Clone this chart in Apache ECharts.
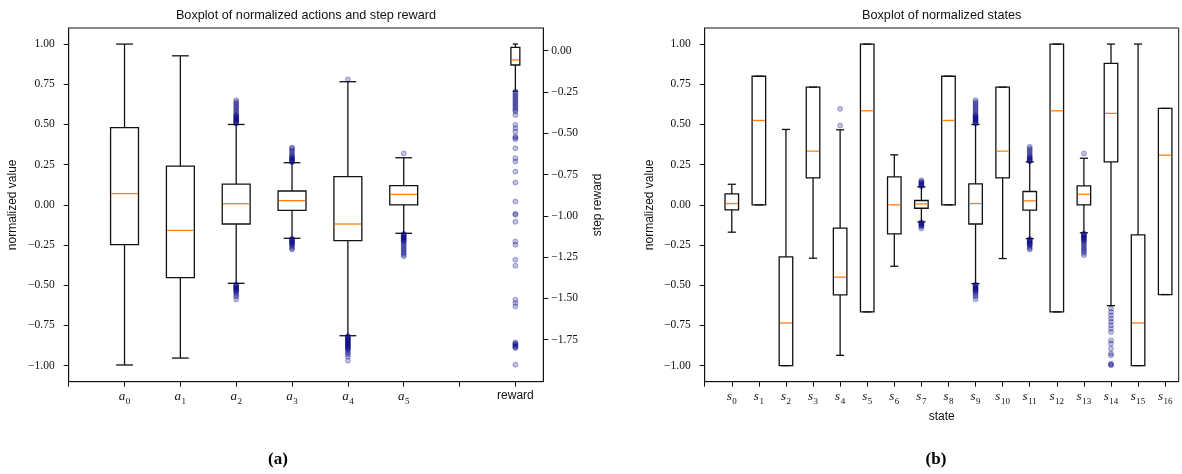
<!DOCTYPE html>
<html><head><meta charset="utf-8">
<script src="https://cdn.jsdelivr.net/npm/echarts@6/dist/echarts.min.js"></script>
<style>html,body{margin:0;padding:0;background:#fff}#c{width:1182px;height:474px}</style>
</head><body><div id="c"></div>
<script>
// ---------- data ----------
const actionNames = ['a0', 'a1', 'a2', 'a3', 'a4', 'a5'];
const actionPositions = [1, 2, 3, 4, 5, 6];
// [whisker low, Q1, median, Q3, whisker high]
const actionBoxes = [
  [-0.996, -0.248, 0.070, 0.480, 1.000],
  [-0.953, -0.453, -0.159, 0.241, 0.927],
  [-0.488, -0.119, 0.007, 0.129, 0.500],
  [-0.208, -0.034, 0.026, 0.086, 0.262],
  [-0.814, -0.223, -0.119, 0.175, 0.766],
  [-0.177, 0.000, 0.065, 0.119, 0.293]
];
const actionOutliers = [
  [],
  [],
  [0.505, 0.51, 0.515, 0.52, 0.525, 0.53, 0.535, 0.54, 0.545, 0.55, 0.555, 0.56, 0.57, 0.58, 0.59, 0.60, 0.61, 0.62, 0.63, 0.64, 0.65,
   -0.495, -0.50, -0.505, -0.51, -0.515, -0.52, -0.525, -0.53, -0.535, -0.54, -0.55, -0.56, -0.57, -0.588],
  [0.265, 0.27, 0.275, 0.28, 0.285, 0.29, 0.295, 0.30, 0.31, 0.32, 0.33, 0.34, 0.35, 0.357,
   -0.21, -0.215, -0.22, -0.225, -0.23, -0.235, -0.24, -0.245, -0.25, -0.26, -0.27, -0.277],
  [0.78,
   -0.815, -0.82, -0.825, -0.83, -0.835, -0.84, -0.845, -0.85, -0.855, -0.86, -0.865, -0.87, -0.875, -0.88, -0.885, -0.89, -0.895, -0.90, -0.91, -0.92, -0.93, -0.945, -0.969],
  [0.32,
   -0.18, -0.185, -0.19, -0.195, -0.20, -0.205, -0.21, -0.215, -0.22, -0.225, -0.23, -0.24, -0.25, -0.26, -0.27, -0.28, -0.29, -0.30, -0.31, -0.32]
];
const rewardPosition = 8;
const rewardBox = [-0.245, -0.087, -0.056, 0.020, 0.040];
const rewardOutliers = [-0.248, -0.258, -0.268, -0.278, -0.288, -0.298, -0.308, -0.318, -0.328, -0.338, -0.349, -0.359, -0.369, -0.389,
  -0.449, -0.470, -0.490, -0.520, -0.528, -0.536, -0.591, -0.651, -0.671, -0.732, -0.798, -0.913, -0.988, -0.994, -1.036,
  -1.155, -1.175, -1.266, -1.302, -1.508, -1.528, -1.548,
  -1.766, -1.772, -1.778, -1.784, -1.790, -1.796, -1.80, -1.901];
const actionTicks = [0, 1, 2, 3, 4, 5, 6, 7, 8];
const valueTicks = [-1, -0.75, -0.5, -0.25, 0, 0.25, 0.5, 0.75, 1];
const rewardTicks = [-1.75, -1.5, -1.25, -1, -0.75, -0.5, -0.25, 0];

const stateNames = ['s0','s1','s2','s3','s4','s5','s6','s7','s8','s9','s10','s11','s12','s13','s14','s15','s16'];
const statePositions = [1,2,3,4,5,6,7,8,9,10,11,12,13,14,15,16,17];
const stateBoxes = [
  [-0.170, -0.031, 0.008, 0.068, 0.128],
  [0.000, 0.000, 0.525, 0.800, 0.800],
  [-1.000, -1.000, -0.735, -0.324, 0.469],
  [-0.332, 0.168, 0.334, 0.732, 0.732],
  [-0.936, -0.560, -0.450, -0.145, 0.467],
  [-0.666, -0.666, 0.585, 1.000, 1.000],
  [-0.382, -0.181, 0.000, 0.174, 0.311],
  [-0.106, -0.021, 0.006, 0.027, 0.112],
  [0.000, 0.000, 0.525, 0.800, 0.800],
  [-0.490, -0.119, 0.008, 0.130, 0.500],
  [-0.334, 0.168, 0.334, 0.732, 0.732],
  [-0.210, -0.033, 0.025, 0.083, 0.267],
  [-0.666, -0.666, 0.585, 1.000, 1.000],
  [-0.174, 0.000, 0.066, 0.118, 0.290],
  [-0.627, 0.267, 0.569, 0.880, 1.000],
  [-1.000, -1.000, -0.735, -0.187, 1.000],
  [-0.558, -0.558, 0.309, 0.600, 0.600]
];
const stateOutliers = [
  [], [], [], [],
  [0.494, 0.597],
  [], [],
  [0.115, 0.12, 0.125, 0.13, 0.135, 0.14, 0.145, 0.153, -0.108, -0.112, -0.116, -0.12, -0.125, -0.13, -0.135, -0.147],
  [],
  [0.505, 0.51, 0.515, 0.52, 0.525, 0.53, 0.535, 0.54, 0.545, 0.55, 0.555, 0.56, 0.57, 0.58, 0.59, 0.60, 0.61, 0.62, 0.63, 0.64, 0.651,
   -0.495, -0.50, -0.505, -0.51, -0.515, -0.52, -0.525, -0.53, -0.535, -0.54, -0.55, -0.56, -0.57, -0.587],
  [],
  [0.27, 0.275, 0.28, 0.285, 0.29, 0.295, 0.30, 0.31, 0.32, 0.33, 0.34, 0.35, 0.361,
   -0.212, -0.217, -0.222, -0.227, -0.232, -0.237, -0.242, -0.247, -0.25, -0.26, -0.27, -0.278],
  [],
  [0.32,
   -0.178, -0.183, -0.188, -0.193, -0.198, -0.203, -0.208, -0.213, -0.218, -0.223, -0.23, -0.24, -0.25, -0.26, -0.27, -0.28, -0.29, -0.30, -0.313],
  [-0.645, -0.666, -0.687, -0.708, -0.728, -0.749, -0.770, -0.791, -0.843, -0.863, -0.894, -0.925, -0.936, -0.988, -0.993, -0.998],
  [], []
];
const stateTicks = [0,1,2,3,4,5,6,7,8,9,10,11,12,13,14,15,16,17];

// ---------- helpers ----------
const SERIF = '"Liberation Serif", "DejaVu Serif", serif';
const SANS = '"Liberation Sans", "DejaVu Sans", sans-serif';
const fmtVal = v => (v < 0 ? '\u2212' : '') + Math.abs(v).toFixed(2);

function boxItems(positions, boxes) {
  return boxes.map((b, i) => [positions[i]].concat(b));
}
function outlierItems(positions, lists) {
  const out = [];
  lists.forEach((l, i) => l.forEach(v => out.push([positions[i], v])));
  return out;
}
function makeRender(widthUnits) {
  return function (params, api) {
    const x = api.value(0);
    const unit = api.size([1, 0])[0];
    const hw = unit * widthUnits / 2;
    const cw = hw * 0.6;
    const pMin = api.coord([x, api.value(1)]);
    const pQ1 = api.coord([x, api.value(2)]);
    const pMed = api.coord([x, api.value(3)]);
    const pQ3 = api.coord([x, api.value(4)]);
    const pMax = api.coord([x, api.value(5)]);
    const cx = pMin[0];
    const ls = { stroke: '#111', lineWidth: 1.3, fill: null };
    return {
      type: 'group',
      children: [
        { type: 'line', shape: { x1: cx, y1: pQ1[1], x2: cx, y2: pMin[1] }, style: ls },
        { type: 'line', shape: { x1: cx, y1: pQ3[1], x2: cx, y2: pMax[1] }, style: ls },
        { type: 'line', shape: { x1: cx - cw, y1: pMin[1], x2: cx + cw, y2: pMin[1] }, style: ls },
        { type: 'line', shape: { x1: cx - cw, y1: pMax[1], x2: cx + cw, y2: pMax[1] }, style: ls },
        { type: 'rect', shape: { x: cx - hw, y: pQ3[1], width: 2 * hw, height: pQ1[1] - pQ3[1] },
          style: { stroke: '#111', lineWidth: 1.3, fill: 'none' } },
        { type: 'line', shape: { x1: cx - hw + 0.7, y1: pMed[1], x2: cx + hw - 0.7, y2: pMed[1] },
          style: { stroke: '#ff7f0e', lineWidth: 1.3 } }
      ]
    };
  };
}
const flierStyle = { color: 'rgba(0,0,140,0.3)', borderColor: 'rgba(0,0,120,0.45)', borderWidth: 0.8 };

function yAxisBase(gridIndex, ticks, min, max) {
  return {
    gridIndex, type: 'value', min, max,
    splitLine: { show: false },
    axisLine: { show: true, onZero: false, lineStyle: { color: '#111', width: 1 } },
    axisTick: { show: true, length: 5, customValues: ticks, lineStyle: { color: '#111', width: 1 } },
    axisLabel: { customValues: ticks, formatter: fmtVal, margin: 14, color: '#111',
      fontFamily: SERIF, fontSize: 11.5 }
  };
}

const chart = echarts.init(document.getElementById('c'), null, { renderer: 'canvas' });
chart.setOption({
  animation: false,
  backgroundColor: '#fff',
  grid: [
    { left: 68.7, top: 28, width: 474.6, height: 353.7, show: true, borderColor: '#111', borderWidth: 1, containLabel: false },
    { left: 704.7, top: 28, width: 474, height: 353.7, show: true, borderColor: '#111', borderWidth: 1, containLabel: false }
  ],
  xAxis: [
    {
      gridIndex: 0, type: 'value', min: 0, max: 8.5,
      splitLine: { show: false },
      axisLine: { onZero: false, lineStyle: { color: '#111' } },
      axisTick: { length: 5, customValues: actionTicks, lineStyle: { color: '#111' } },
      axisLabel: {
        customValues: [1, 2, 3, 4, 5, 6, rewardPosition], margin: 8, color: '#111',
        formatter: v => v === rewardPosition ? '{r|reward}' : '{i|a}{s|' + actionNames[v - 1].slice(1) + '}',
        rich: {
          i: { fontFamily: SERIF, fontStyle: 'italic', fontSize: 13, verticalAlign: 'top', color: '#111' },
          s: { fontFamily: SERIF, fontSize: 9, verticalAlign: 'top', padding: [7, 0, 0, 0.5], color: '#111' },
          r: { fontFamily: SANS, fontSize: 12, color: '#111', padding: [0, 0, 1, 0] }
        }
      }
    },
    {
      gridIndex: 1, type: 'value', min: 0, max: 17.5,
      name: 'state', nameLocation: 'middle', nameGap: 24,
      nameTextStyle: { fontFamily: SANS, fontSize: 12, color: '#111' },
      splitLine: { show: false },
      axisLine: { onZero: false, lineStyle: { color: '#111' } },
      axisTick: { length: 5, customValues: stateTicks, lineStyle: { color: '#111' } },
      axisLabel: {
        customValues: statePositions, margin: 8, color: '#111',
        formatter: v => '{i|s}{s|' + stateNames[v - 1].slice(1) + '}',
        rich: {
          i: { fontFamily: SERIF, fontStyle: 'italic', fontSize: 13, verticalAlign: 'top', color: '#111' },
          s: { fontFamily: SERIF, fontSize: 9, verticalAlign: 'top', padding: [7, 0, 0, 0.5], color: '#111' }
        }
      }
    }
  ],
  yAxis: [
    Object.assign(yAxisBase(0, valueTicks, -1.1, 1.1), {
      name: 'normalized value', nameLocation: 'middle', nameGap: 50, nameRotate: 90,
      nameTextStyle: { fontFamily: SANS, fontSize: 12, color: '#111' }
    }),
    Object.assign(yAxisBase(0, rewardTicks, -2.004, 0.137), {
      position: 'right',
      name: 'step reward', nameLocation: 'middle', nameGap: 48, nameRotate: 90,
      nameTextStyle: { fontFamily: SANS, fontSize: 12, color: '#111' },
      axisLabel: { customValues: rewardTicks, formatter: fmtVal, margin: 8, color: '#111',
        fontFamily: SERIF, fontSize: 11.5 }
    }),
    Object.assign(yAxisBase(1, valueTicks, -1.1, 1.1), {
      name: 'normalized value', nameLocation: 'middle', nameGap: 49, nameRotate: 90,
      nameTextStyle: { fontFamily: SANS, fontSize: 12, color: '#111' }
    })
  ],
  series: [
    { type: 'custom', xAxisIndex: 0, yAxisIndex: 0, renderItem: makeRender(0.5),
      encode: { x: 0, y: [1, 2, 3, 4, 5] }, data: boxItems(actionPositions, actionBoxes), z: 2 },
    { type: 'scatter', xAxisIndex: 0, yAxisIndex: 0, symbol: 'circle', symbolSize: 5,
      itemStyle: flierStyle, data: outlierItems(actionPositions, actionOutliers), z: 3 },
    { type: 'custom', xAxisIndex: 0, yAxisIndex: 1, renderItem: makeRender(0.16),
      encode: { x: 0, y: [1, 2, 3, 4, 5] }, data: [[rewardPosition].concat(rewardBox)], z: 2 },
    { type: 'scatter', xAxisIndex: 0, yAxisIndex: 1, symbol: 'circle', symbolSize: 5,
      itemStyle: flierStyle, data: rewardOutliers.map(v => [rewardPosition, v]), z: 3 },
    { type: 'custom', xAxisIndex: 1, yAxisIndex: 2, renderItem: makeRender(0.5),
      encode: { x: 0, y: [1, 2, 3, 4, 5] }, data: boxItems(statePositions, stateBoxes), z: 2 },
    { type: 'scatter', xAxisIndex: 1, yAxisIndex: 2, symbol: 'circle', symbolSize: 5,
      itemStyle: flierStyle, data: outlierItems(statePositions, stateOutliers), z: 3 }
  ],
  graphic: [
    { type: 'text', x: 306, y: 15, style: { text: 'Boxplot of normalized actions and step reward', font: '12.7px ' + SANS,
      fill: '#111', align: 'center', verticalAlign: 'middle', textAlign: 'center', textVerticalAlign: 'middle' } },
    { type: 'text', x: 941.7, y: 15, style: { text: 'Boxplot of normalized states', font: '12.7px ' + SANS,
      fill: '#111', align: 'center', verticalAlign: 'middle', textAlign: 'center', textVerticalAlign: 'middle' } },
    { type: 'text', x: 278, y: 460, style: { text: '(a)', font: 'bold 17px ' + SERIF,
      fill: '#000', align: 'center', verticalAlign: 'middle', textAlign: 'center', textVerticalAlign: 'middle' } },
    { type: 'text', x: 936, y: 460, style: { text: '(b)', font: 'bold 17px ' + SERIF,
      fill: '#000', align: 'center', verticalAlign: 'middle', textAlign: 'center', textVerticalAlign: 'middle' } }
  ]
});
</script></body></html>
